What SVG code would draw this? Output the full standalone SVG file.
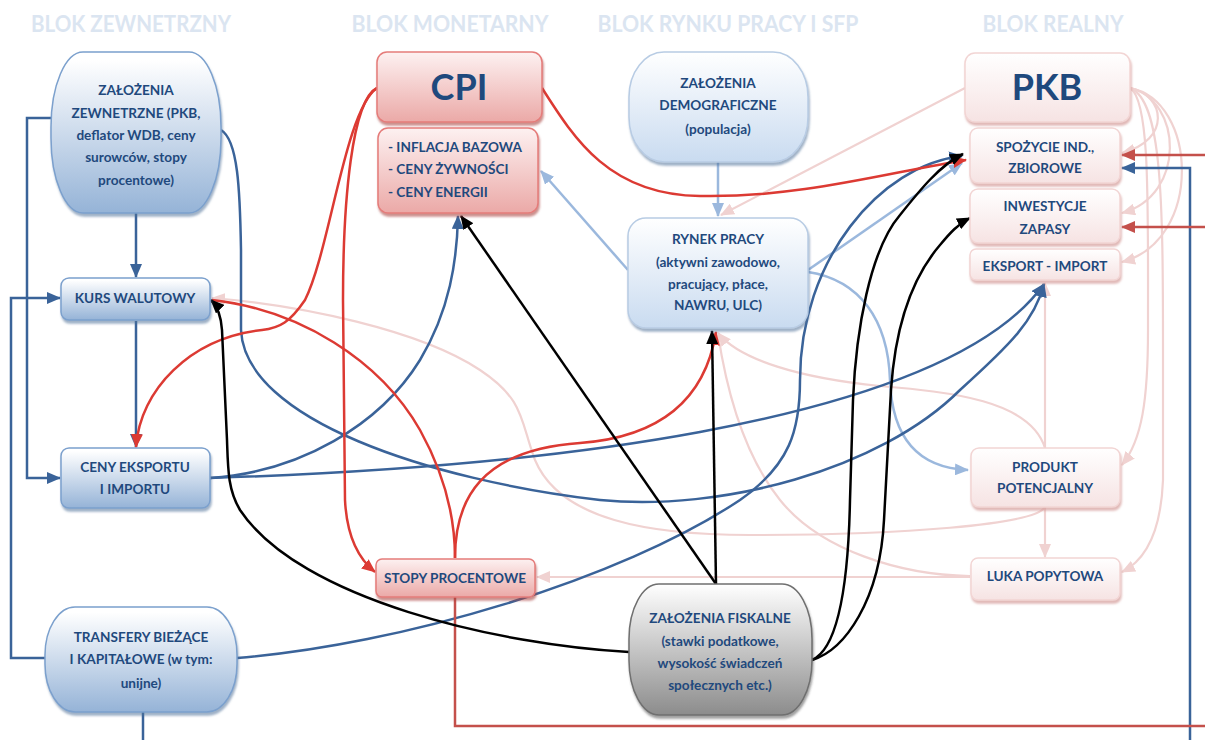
<svg xmlns="http://www.w3.org/2000/svg" width="1205" height="740" viewBox="0 0 1205 740">
<style>
.hd{font-family:Lato,"Open Sans","DejaVu Sans",sans-serif;font-weight:bold;font-size:22px;fill:#dbe5f1;text-anchor:middle}
.t{font-family:Lato,"Noto Sans","DejaVu Sans",sans-serif;font-weight:bold;font-size:13.6px;fill:#1f497d;text-anchor:middle}
.tl{text-anchor:start}
.big{font-size:36px}
.c{fill:none;stroke-width:2.5}
.db{stroke:#3a6399}
.lb{stroke:#9bb8dd}
.rd{stroke:#dc3a33}
.dr{stroke:#c4504b}
.bk{stroke:#000}
.pk{stroke:#f0d2d1;stroke-width:2.2}
</style>
<defs>
<linearGradient id="gB" x1="0" y1="0" x2="0" y2="1"><stop offset="0.05" stop-color="#ffffff"/><stop offset="1" stop-color="#95b3d7"/></linearGradient>
<linearGradient id="gL" x1="0" y1="0" x2="0" y2="1"><stop offset="0" stop-color="#ffffff"/><stop offset="1" stop-color="#c9dbf0"/></linearGradient>
<linearGradient id="gR" x1="0" y1="0" x2="0" y2="1"><stop offset="0" stop-color="#fdf1f1"/><stop offset="1" stop-color="#eba9a7"/></linearGradient>
<linearGradient id="gP" x1="0" y1="0" x2="0" y2="1"><stop offset="0" stop-color="#ffffff"/><stop offset="1" stop-color="#f6e3e3"/></linearGradient>
<linearGradient id="gG" x1="0" y1="0" x2="0" y2="1"><stop offset="0" stop-color="#ffffff"/><stop offset="1" stop-color="#8c8c8c"/></linearGradient>
<filter id="sB" x="-10%" y="-10%" width="120%" height="130%"><feDropShadow dx="1" dy="3" stdDeviation="1" flood-color="#4f6f99" flood-opacity="0.55"/></filter>
<filter id="sR" x="-10%" y="-10%" width="120%" height="130%"><feDropShadow dx="1" dy="3" stdDeviation="1" flood-color="#a94442" flood-opacity="0.6"/></filter>
<filter id="sP" x="-10%" y="-10%" width="120%" height="130%"><feDropShadow dx="1" dy="3" stdDeviation="1" flood-color="#d49b99" flood-opacity="0.7"/></filter>
<filter id="sG" x="-10%" y="-10%" width="120%" height="130%"><feDropShadow dx="1" dy="3" stdDeviation="1" flood-color="#404040" flood-opacity="0.5"/></filter>
<marker id="aDB" markerUnits="userSpaceOnUse" markerWidth="14" markerHeight="12" refX="13" refY="6" orient="auto"><path d="M0,0 L14,6 L0,12 z" fill="#3a6399"/></marker>
<marker id="aLB" markerUnits="userSpaceOnUse" markerWidth="14" markerHeight="12" refX="13" refY="6" orient="auto"><path d="M0,0 L14,6 L0,12 z" fill="#9bb8dd"/></marker>
<marker id="aRD" markerUnits="userSpaceOnUse" markerWidth="14" markerHeight="12" refX="13" refY="6" orient="auto"><path d="M0,0 L14,6 L0,12 z" fill="#dc3a33"/></marker>
<marker id="aDR" markerUnits="userSpaceOnUse" markerWidth="14" markerHeight="12" refX="13" refY="6" orient="auto"><path d="M0,0 L14,6 L0,12 z" fill="#c4504b"/></marker>
<marker id="aBK" markerUnits="userSpaceOnUse" markerWidth="14" markerHeight="12" refX="13" refY="6" orient="auto"><path d="M0,0 L14,6 L0,12 z" fill="#000"/></marker>
<marker id="aPK" markerUnits="userSpaceOnUse" markerWidth="14" markerHeight="12" refX="13" refY="6" orient="auto"><path d="M0,0 L14,6 L0,12 z" fill="#f0d2d1"/></marker>
</defs>
<rect width="1205" height="740" fill="#ffffff"/>
<g id="headers">
<text class="hd" x="131" y="32" textLength="200" lengthAdjust="spacingAndGlyphs">BLOK ZEWNETRZNY</text>
<text class="hd" x="450" y="32" textLength="197" lengthAdjust="spacingAndGlyphs">BLOK MONETARNY</text>
<text class="hd" x="728" y="32" textLength="261" lengthAdjust="spacingAndGlyphs">BLOK RYNKU PRACY I SFP</text>
<text class="hd" x="1053" y="32" textLength="141" lengthAdjust="spacingAndGlyphs">BLOK REALNY</text>
</g>
<g id="connectors">
<!-- pink -->
<path class="c pk" d="M965,88 L721,215" marker-end="url(#aPK)"/>
<path class="c pk" d="M1130,88 C1165,95 1172,140 1122,153" marker-end="url(#aPK)"/>
<path class="c pk" d="M1130,88 C1182,100 1187,195 1122,213" marker-end="url(#aPK)"/>
<path class="c pk" d="M1130,88 C1197,100 1204,240 1122,262" marker-end="url(#aPK)"/>
<path class="c pk" d="M1130,88 C1150,100 1148,200 1148,330 C1148,400 1142,440 1122,465" marker-end="url(#aPK)"/>
<path class="c pk" d="M1130,88 C1162,100 1163,200 1163,350 L1163,480 C1161,530 1146,560 1122,572" marker-end="url(#aPK)"/>
<path class="c pk" d="M1045,448 L1045,283" marker-end="url(#aPK)"/>
<path class="c pk" d="M1045,507 L1045,557" marker-end="url(#aPK)"/>
<path class="c pk" d="M1045,448 C1030,400 950,392 880,386 C800,378 740,360 718,333" marker-end="url(#aPK)"/>
<path class="c pk" d="M1045,507 C1035,525 900,535 750,535 C650,535 560,520 535,460 C520,420 525,400 480,370 C420,330 300,305 212,298" marker-end="url(#aPK)"/>
<path class="c pk" d="M970,576 C900,575 820,550 780,500 C740,450 725,380 718,334"/>
<path class="c pk" d="M970,577 L537,577" marker-end="url(#aPK)"/>
<!-- light blue -->
<path class="c lb" d="M718,162 L718,216" marker-end="url(#aLB)"/>
<path class="c lb" d="M628,270 L541,171" marker-end="url(#aLB)"/>
<path class="c lb" d="M808,270 L962,163" marker-end="url(#aLB)"/>
<path class="c lb" d="M808,272 C860,280 888,320 890,380 C892,440 920,468 968,470" marker-end="url(#aLB)"/>
<!-- dark blue -->
<path class="c db" d="M136,213 L136,277" marker-end="url(#aDB)"/>
<path class="c db" d="M136,321 L136,447" marker-end="url(#aDB)"/>
<path class="c db" d="M51,118 L27,118 L27,478 L60,478" marker-end="url(#aDB)"/>
<path class="c db" d="M45,658 L11,658 L11,298 L60,298" marker-end="url(#aDB)"/>
<path class="c db" d="M143,712 L143,740"/>
<path class="c db" d="M221,130 C238,140 240,190 241,250 L241,330 C245,420 430,480 600,500 C720,512 880,470 960,390 C1010,345 1035,320 1044,284" marker-end="url(#aDB)"/>
<path class="c db" d="M210,478 C400,472 560,458 700,432 C850,404 990,360 1044,284" marker-end="url(#aDB)"/>
<path class="c db" d="M210,478 C300,472 380,425 420,360 C450,310 457,260 458,216" marker-end="url(#aDB)"/>
<path class="c db" d="M237,658 C400,645 620,580 740,500 C790,465 800,430 800,380 C800,260 880,165 962,156" marker-end="url(#aDB)"/>
<path class="c db" d="M1190,740 L1190,168 L1122,168" marker-end="url(#aDB)"/>
<!-- red -->
<path class="c rd" d="M377,88 C352,100 343,200 343,300 L345,500 C347,540 360,560 375,572" marker-end="url(#aRD)"/>
<path class="c rd" d="M377,88 C345,110 330,250 305,300 C290,322 280,328 262,330 C190,338 140,390 136,447" marker-end="url(#aRD)"/>
<path class="c rd" d="M542,88 C575,140 610,195 700,196 C800,198 890,172 966,160" marker-end="url(#aRD)"/>
<path class="c rd" d="M455,558 C455,500 480,450 580,443 C660,437 705,400 716,332" marker-end="url(#aRD)"/>
<path class="c rd" d="M212,300 C300,310 380,360 420,430 C445,475 455,520 455,558"/>
<path class="c dr" d="M455,597 L455,726 L1205,726"/>
<path class="c dr" d="M1205,155 L1122,155" marker-end="url(#aDR)"/>
<path class="c dr" d="M1205,227 L1122,227" marker-end="url(#aDR)"/>
<!-- black -->
<path class="c bk" d="M629,652 C500,645 300,600 240,510 C228,490 228,470 227,440 L222,330 C221,315 216,305 211,300" marker-end="url(#aBK)"/>
<path class="c bk" d="M716,584 L461,216" marker-end="url(#aBK)"/>
<path class="c bk" d="M716,584 L712,331" marker-end="url(#aBK)"/>
<path class="c bk" d="M812,660 C835,650 848,600 850,500 L853,400 C856,330 870,250 900,215 C920,190 940,165 963,154" marker-end="url(#aBK)"/>
<path class="c bk" d="M812,660 C845,650 880,600 884,520 L891,390 C895,330 910,280 940,245 C950,233 958,224 970,218" marker-end="url(#aBK)"/>
</g>
<g id="n-zewn">
<rect x="51" y="52" width="170" height="161" rx="32" ry="75" fill="url(#gB)" stroke="#7ba0cd" stroke-width="1.5" filter="url(#sB)"/>
<text class="t" x="136" y="95">ZAŁOŻENIA</text>
<text class="t" x="136" y="118">ZEWNETRZNE (PKB,</text>
<text class="t" x="136" y="140">deflator WDB, ceny</text>
<text class="t" x="136" y="162">surowców, stopy</text>
<text class="t" x="136" y="185">procentowe)</text>
</g>
<g id="n-kurs">
<rect x="61" y="278" width="149" height="42" rx="8" fill="url(#gB)" stroke="#7ba0cd" stroke-width="1.5" filter="url(#sB)"/>
<text class="t" x="135" y="303">KURS WALUTOWY</text>
</g>
<g id="n-ceny">
<rect x="61" y="448" width="149" height="60" rx="8" fill="url(#gB)" stroke="#7ba0cd" stroke-width="1.5" filter="url(#sB)"/>
<text class="t" x="135" y="472">CENY EKSPORTU</text>
<text class="t" x="135" y="494">I IMPORTU</text>
</g>
<g id="n-transfery">
<rect x="45" y="607" width="192" height="105" rx="30" ry="48" fill="url(#gB)" stroke="#7ba0cd" stroke-width="1.5" filter="url(#sB)"/>
<text class="t" x="141" y="642">TRANSFERY BIEŻĄCE</text>
<text class="t" x="141" y="664">I KAPITAŁOWE (w tym:</text>
<text class="t" x="141" y="688">unijne)</text>
</g>
<g id="n-cpi">
<rect x="377" y="52" width="165" height="70" rx="10" fill="url(#gR)" stroke="#e57c7a" stroke-width="1.5" filter="url(#sR)"/>
<text class="t big" x="459" y="100">CPI</text>
</g>
<g id="n-cpi-sub">
<rect x="378" y="128" width="160" height="85" rx="10" fill="url(#gR)" stroke="#e57c7a" stroke-width="1.5" filter="url(#sR)"/>
<text class="t tl" x="388" y="152">- INFLACJA BAZOWA</text>
<text class="t tl" x="388" y="174">- CENY ŻYWNOŚCI</text>
<text class="t tl" x="388" y="197">- CENY ENERGII</text>
</g>
<g id="n-stopy">
<rect x="376" y="559" width="159" height="38" rx="6" fill="url(#gR)" stroke="#e57c7a" stroke-width="1.5" filter="url(#sR)"/>
<text class="t" x="455" y="583">STOPY PROCENTOWE</text>
</g>
<g id="n-demograf">
<rect x="629" y="52" width="179" height="110" rx="35" ry="45" fill="url(#gL)" stroke="#b8cce4" stroke-width="1.5" filter="url(#sB)"/>
<text class="t" x="718" y="88">ZAŁOŻENIA</text>
<text class="t" x="718" y="110">DEMOGRAFICZNE</text>
<text class="t" x="718" y="134">(populacja)</text>
</g>
<g id="n-rynek">
<rect x="628" y="218" width="180" height="110" rx="18" fill="url(#gL)" stroke="#b8cce4" stroke-width="1.5" filter="url(#sB)"/>
<text class="t" x="718" y="244">RYNEK PRACY</text>
<text class="t" x="718" y="267">(aktywni zawodowo,</text>
<text class="t" x="718" y="289">pracujący, płace,</text>
<text class="t" x="718" y="310">NAWRU, ULC)</text>
</g>
<g id="n-fiskalne">
<rect x="629" y="584" width="183" height="131" rx="30" ry="55" fill="url(#gG)" stroke="#6f6f6f" stroke-width="1.5" filter="url(#sG)"/>
<text class="t" x="720" y="623">ZAŁOŻENIA FISKALNE</text>
<text class="t" x="720" y="646">(stawki podatkowe,</text>
<text class="t" x="720" y="668">wysokość świadczeń</text>
<text class="t" x="720" y="690">społecznych etc.)</text>
</g>
<g id="n-pkb">
<rect x="965" y="53" width="165" height="69" rx="10" fill="url(#gP)" stroke="#f2d5d4" stroke-width="1.5" filter="url(#sP)"/>
<text class="t big" x="1047" y="100">PKB</text>
</g>
<g id="n-spozycie">
<rect x="970" y="128" width="150" height="55" rx="8" fill="url(#gP)" stroke="#f2d5d4" stroke-width="1.5" filter="url(#sP)"/>
<text class="t" x="1045" y="152">SPOŻYCIE IND.,</text>
<text class="t" x="1045" y="173">ZBIOROWE</text>
</g>
<g id="n-inwestycje">
<rect x="970" y="189" width="150" height="54" rx="8" fill="url(#gP)" stroke="#f2d5d4" stroke-width="1.5" filter="url(#sP)"/>
<text class="t" x="1045" y="211">INWESTYCJE</text>
<text class="t" x="1045" y="234">ZAPASY</text>
</g>
<g id="n-eksport">
<rect x="970" y="249" width="150" height="31" rx="6" fill="url(#gP)" stroke="#f2d5d4" stroke-width="1.5" filter="url(#sP)"/>
<text class="t" x="1045" y="271">EKSPORT - IMPORT</text>
</g>
<g id="n-produkt">
<rect x="971" y="448" width="149" height="59" rx="8" fill="url(#gP)" stroke="#f2d5d4" stroke-width="1.5" filter="url(#sP)"/>
<text class="t" x="1045" y="472">PRODUKT</text>
<text class="t" x="1045" y="493">POTENCJALNY</text>
</g>
<g id="n-luka">
<rect x="971" y="558" width="149" height="42" rx="7" fill="url(#gP)" stroke="#f2d5d4" stroke-width="1.5" filter="url(#sP)"/>
<text class="t" x="1045" y="581">LUKA POPYTOWA</text>
</g>
</svg>
